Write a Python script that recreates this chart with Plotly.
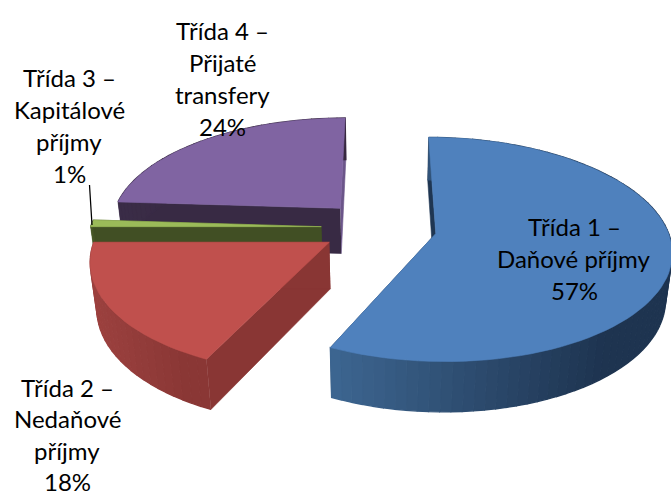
import numpy as np
import plotly.graph_objects as go

categories = ["Třída 1 – Daňové příjmy", "Třída 2 – Nedaňové příjmy",
              "Třída 3 – Kapitálové příjmy", "Třída 4 – Přijaté transfery"]
values = [57, 18, 1, 24]
label_lines = [["Třída 1 –", "Daňové příjmy"], ["Třída 2 –", "Nedaňové", "příjmy"],
               ["Třída 3 –", "Kapitálové", "příjmy"], ["Třída 4 –", "Přijaté", "transfery"]]
label_anchor = [(574, 226), (67, 387), (69, 77), (222, 30)]
label_step = [32, 31.5, 32, 32]
top_colors = ["#4F81BD", "#C0504D", "#9BBB59", "#8064A2"]
rim_left = ["#3D6691", "#9C413F", "#4A5B28", "#3A2C47"]
rim_right = ["#1E3450", "#8A3735", "#414F24", "#37283F"]
face_start_colors = ["#1F3652", "#893634", "#414F24", "#382A44"]
face_end_colors = ["#1F3652", "#893634", "#414F24", "#6B5589"]
draw_order = [3, 2, 1, 0]

# Projection of the exploded, tilted pie
XV, YV, BX, AY, K, EXPLODE, HEIGHT, DEPTH = 379, 227.5, 231, 108.1, 0.142, 0.25, 47, 0.023


def project(xw, yw, z):
    s = 1 / (1 + K * yw + DEPTH * z)
    return XV + BX * xw * s, YV + s * (-AY * yw + HEIGHT * z)


def hexmix(a, b, t):
    ca = [int(a[i:i + 2], 16) for i in (1, 3, 5)]
    cb = [int(b[i:i + 2], 16) for i in (1, 3, 5)]
    return "#%02x%02x%02x" % tuple(int(round(p + (q - p) * t)) for p, q in zip(ca, cb))


def poly(fig, xs, ys, color, width=0.6):
    fig.add_trace(go.Scatter(x=list(xs), y=list(ys), mode="lines", fill="toself", fillcolor=color,
                             line=dict(color=color, width=width), hoverinfo="skip", showlegend=False))


fig = go.Figure()
edges = np.concatenate([[0], np.cumsum(values)]) / np.sum(values) * 2 * np.pi

for i in draw_order:
    a0, a1 = edges[i], edges[i + 1]
    mid = (a0 + a1) / 2
    ox, oy = EXPLODE * np.sin(mid), EXPLODE * np.cos(mid)
    th = np.linspace(a0, a1, max(int((a1 - a0) * 24), 4))
    rx, ry = ox + np.sin(th), oy + np.cos(th)

    # radial faces
    for ang, col in ((a0, face_start_colors[i]), (a1, face_end_colors[i])):
        wx = [ox, ox + np.sin(ang), ox + np.sin(ang), ox]
        wy = [oy, oy + np.cos(ang), oy + np.cos(ang), oy]
        zz = [0, 0, 1, 1]
        px, py = zip(*[project(a, b, c) for a, b, c in zip(wx, wy, zz)])
        poly(fig, px, py, col)

    # outer rim, shaded strip by strip
    tx, ty = project(rx, ry, 0)
    bx, by = project(rx, ry, 1)
    lo, hi = tx.min(), tx.max()
    for j in range(len(th) - 1):
        t = ((tx[j] + tx[j + 1]) / 2 - lo) / max(hi - lo, 1)
        poly(fig, [tx[j], tx[j + 1], bx[j + 1], bx[j]], [ty[j], ty[j + 1], by[j + 1], by[j]],
             hexmix(rim_left[i], rim_right[i], min(t * 1.25, 1)), width=1.4)

    # top surface
    cx, cy = project(ox, oy, 0)
    poly(fig, np.r_[cx, tx, cx], np.r_[cy, ty, cy], top_colors[i])

# leader line of the smallest slice
fig.add_shape(type="line", x0=89.5, y0=185, x1=92, y1=225, line=dict(color="#000000", width=1.2))

for i in range(len(values)):
    lines = label_lines[i] + ["%d%%" % values[i]]
    x0, y0 = label_anchor[i]
    for n, txt in enumerate(lines):
        fig.add_annotation(x=x0, y=y0 + n * label_step[i], text=txt, showarrow=False, xanchor="center",
                           yanchor="middle", font=dict(family="Lato", size=24, color="#000000"))

fig.update_layout(width=671, height=498, margin=dict(l=0, r=0, t=0, b=0), showlegend=False,
                  paper_bgcolor="#FFFFFF", plot_bgcolor="#FFFFFF",
                  xaxis=dict(range=[0, 671], visible=False, fixedrange=True),
                  yaxis=dict(range=[498, 0], visible=False, fixedrange=True))
fig.write_html("out.html", config=dict(displayModeBar=False),
               post_script="document.body.style.margin='0';document.documentElement.style.overflow='hidden';")
